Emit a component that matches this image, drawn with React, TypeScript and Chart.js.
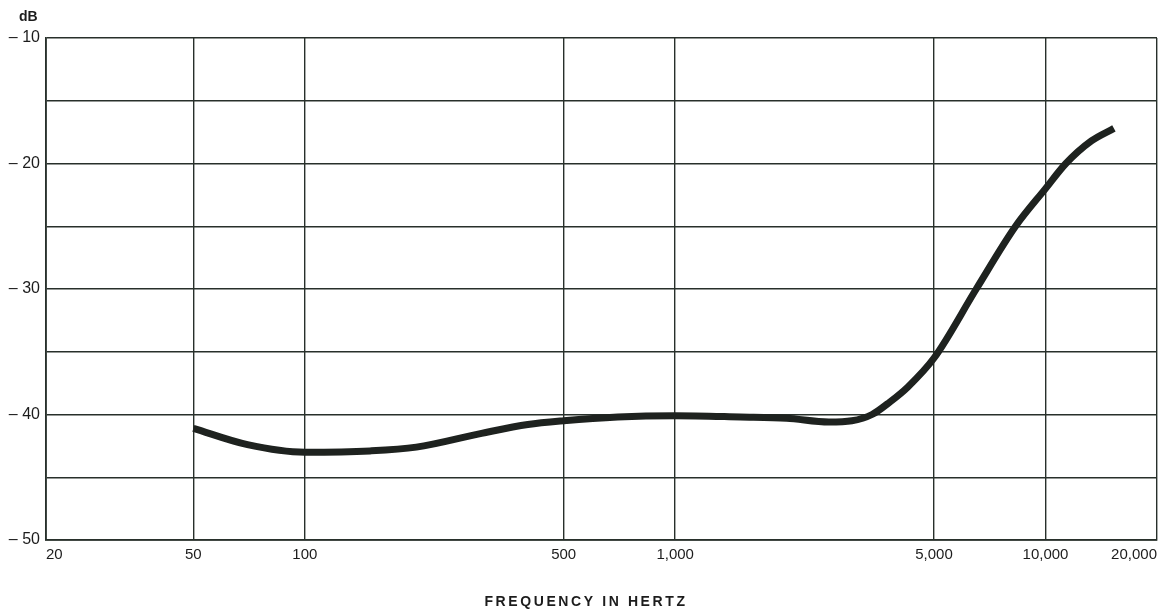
import React, { useEffect, useRef } from "react";
import { Chart, registerables } from "chart.js";

Chart.register(...registerables);

const frequencies = [50, 70, 100, 150, 200, 300, 400, 500, 700, 1000, 1500, 2000, 2600, 3000, 3400, 3800, 4250, 5000, 6500, 8300, 10000, 11350, 13300, 15300];
const levels = [-41.1, -42.4, -43.0, -42.9, -42.6, -41.5, -40.8, -40.5, -40.2, -40.1, -40.2, -40.3, -40.6, -40.5, -40.0, -39.0, -37.8, -35.5, -30.0, -25.0, -22.0, -20.0, -18.2, -17.2];
const xTicks = [20, 50, 100, 500, 1000, 5000, 10000, 20000];
const xTickLabels = ["20", "50", "100", "500", "1,000", "5,000", "10,000", "20,000"];
const yLabelEvery = 10;
const yTitle = "dB";
const xTitle = "FREQUENCY IN HERTZ";

export default function App() {
  const ref = useRef<HTMLCanvasElement | null>(null);

  useEffect(() => {
    document.body.style.margin = "0";
    const canvas = ref.current;
    if (!canvas) return;
    const gridColor = "#28302b";
    const titles = {
      id: "titles",
      afterDraw(chart: any) {
        const { ctx } = chart;
        ctx.save();
        ctx.fillStyle = "#1c1c1c";
        ctx.font = "bold 14px 'Liberation Sans', Arial, sans-serif";
        ctx.textBaseline = "middle";
        ctx.textAlign = "left";
        ctx.fillText(yTitle, 19, 17);
        ctx.textAlign = "center";
        (ctx as any).letterSpacing = "2.6px";
        ctx.fillText(xTitle, 586, 602);
        ctx.restore();
      },
    };
    const chart = new Chart(canvas, {
      type: "line",
      data: {
        datasets: [
          {
            data: frequencies.map((f, i) => ({ x: f, y: levels[i] })),
            borderColor: "#1e221f",
            borderWidth: 7,
            pointRadius: 0,
            cubicInterpolationMode: "monotone",
            borderCapStyle: "butt",
            fill: false,
          },
        ],
      },
      options: {
        animation: false,
        responsive: false,
        maintainAspectRatio: false,
        layout: { padding: { top: 38, right: 13, bottom: 0, left: 0 } },
        plugins: { legend: { display: false }, tooltip: { enabled: false }, title: { display: false } },
        scales: {
          x: {
            type: "logarithmic",
            min: 20,
            max: 20000,
            afterBuildTicks: (scale: any) => {
              scale.ticks = xTicks.map((v) => ({ value: v }));
            },
            afterFit: (scale: any) => {
              scale.height = 73;
            },
            ticks: {
              autoSkip: false,
              maxRotation: 0,
              align: "inner",
              padding: 6,
              color: "#1c1c1c",
              font: { size: 15, family: "'Liberation Sans', Arial, sans-serif" },
              callback: (v: any) => {
                const i = xTicks.indexOf(Number(v));
                return i >= 0 ? xTickLabels[i] : "";
              },
            },
            grid: { color: gridColor, lineWidth: 1.4, drawTicks: false },
            border: { color: gridColor, width: 1.8 },
          },
          y: {
            min: -50,
            max: -10,
            afterFit: (scale: any) => {
              scale.width = 46;
            },
            ticks: {
              stepSize: 5,
              padding: 6,
              color: "#1c1c1c",
              font: { size: 16, family: "'Liberation Sans', Arial, sans-serif" },
              callback: (v: any) => (Number(v) % yLabelEvery === 0 ? "\u2013 " + Math.abs(Number(v)) : ""),
            },
            grid: { color: gridColor, lineWidth: 1.4, drawTicks: false },
            border: { color: gridColor, width: 1.8 },
          },
        },
      } as any,
      plugins: [titles],
    });
    return () => chart.destroy();
  }, []);

  return (
    <div style={{ width: 1170, height: 613, background: "#fff" }}>
      <canvas ref={ref} width={1170} height={613} style={{ display: "block" }} />
    </div>
  );
}
